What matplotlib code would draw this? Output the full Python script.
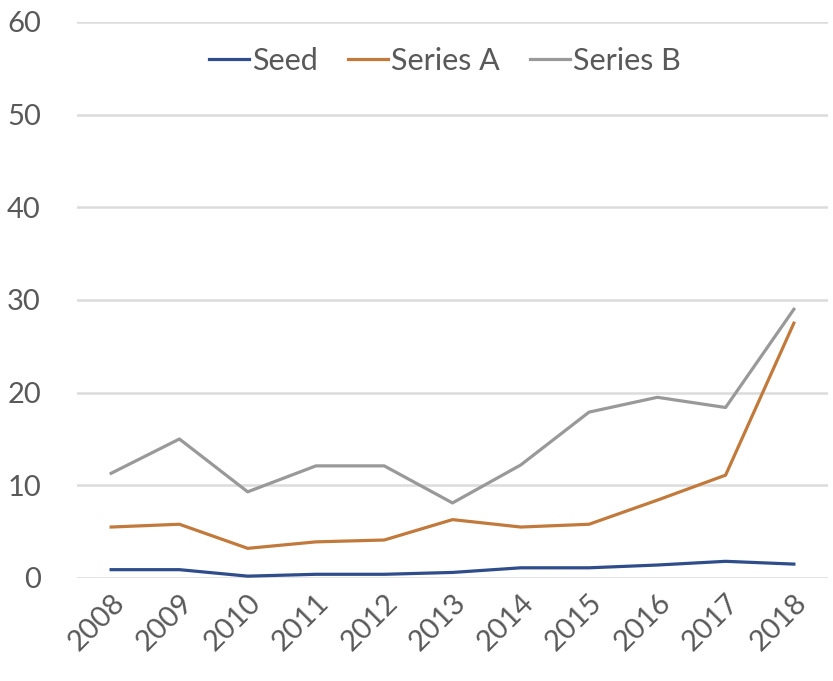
import matplotlib
matplotlib.use('Agg')
import matplotlib.pyplot as plt

years = ['2008', '2009', '2010', '2011', '2012', '2013',
         '2014', '2015', '2016', '2017', '2018']
seed = [0.9, 0.9, 0.2, 0.4, 0.4, 0.6, 1.1, 1.1, 1.4, 1.8, 1.5]
series_a = [5.5, 5.8, 3.2, 3.9, 4.1, 6.3, 5.5, 5.8, 8.4, 11.1, 27.5]
series_b = [11.3, 15.0, 9.3, 12.1, 12.1, 8.1, 12.2, 17.9, 19.5, 18.4, 29.0]
y_ticks = [0, 10, 20, 30, 40, 50, 60]

plt.rcParams['font.family'] = ['Lato', 'DejaVu Sans']
text_color = '#595959'

fig = plt.figure(figsize=(8.33, 6.81), dpi=100)
ax = fig.add_axes([77 / 833, 1 - 578 / 681, (828 - 77) / 833, (578 - 22) / 681])

x = range(len(years))
ax.plot(x, seed, color='#2E4D8A', lw=2.3, label='Seed')
ax.plot(x, series_a, color='#C27A3C', lw=2.3, label='Series A')
ax.plot(x, series_b, color='#999999', lw=2.3, label='Series B')

ax.set_xlim(-0.5, len(years) - 0.5)
ax.set_ylim(0, 60)
ax.set_yticks(y_ticks)
ax.set_xticks(list(x))
ax.set_xticklabels(years, rotation=45, ha='right', rotation_mode='anchor')
ax.yaxis.grid(True, color='#DCDCDC', lw=1.8)
ax.set_axisbelow(True)
for s in ax.spines.values():
    s.set_visible(False)
ax.tick_params(axis='both', length=0, labelsize=21, colors=text_color)
ax.tick_params(axis='y', pad=26)
ax.tick_params(axis='x', pad=8)

leg = ax.legend(loc='upper center', bbox_to_anchor=(0.49, 1.005), ncol=3,
                frameon=False, fontsize=22, handlelength=1.3,
                handletextpad=0.1, columnspacing=1.0)
for t in leg.get_texts():
    t.set_color(text_color)

fig.savefig('out.png', dpi=100)
